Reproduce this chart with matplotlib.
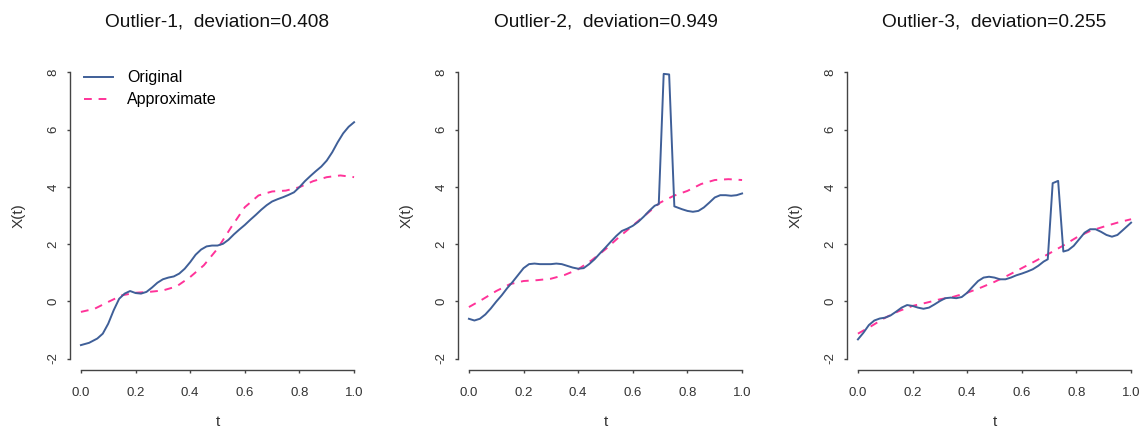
import numpy as np
import matplotlib
matplotlib.use("Agg")
import matplotlib.pyplot as plt

plt.rcParams['font.family'] = ['Liberation Sans', 'DejaVu Sans']

# 데이터
titles = ["Outlier-1,  deviation=0.408",
          "Outlier-2,  deviation=0.949",
          "Outlier-3,  deviation=0.255"]

t_orig1 = [0.0, 0.03, 0.06, 0.08, 0.10, 0.12, 0.14, 0.16, 0.18, 0.20, 0.22, 0.24,
           0.26, 0.28, 0.30, 0.32, 0.34, 0.36, 0.38, 0.40, 0.42, 0.44, 0.46, 0.48,
           0.50, 0.52, 0.54, 0.56, 0.58, 0.60, 0.62, 0.64, 0.66, 0.68, 0.70, 0.72,
           0.74, 0.76, 0.78, 0.80, 0.82, 0.84, 0.86, 0.88, 0.90, 0.92, 0.94, 0.96,
           0.98, 1.0]
x_orig1 = [-1.53, -1.45, -1.30, -1.13, -0.78, -0.31, 0.09, 0.27, 0.36, 0.29, 0.27, 0.33,
           0.48, 0.65, 0.77, 0.83, 0.87, 0.97, 1.14, 1.37, 1.63, 1.81, 1.92, 1.95,
           1.95, 2.01, 2.15, 2.34, 2.51, 2.67, 2.85, 3.02, 3.20, 3.36, 3.49, 3.57,
           3.64, 3.72, 3.81, 3.99, 4.20, 4.38, 4.55, 4.71, 4.92, 5.21, 5.56, 5.87,
           6.10, 6.26]

t_orig2 = [0.0, 0.02, 0.04, 0.06, 0.08, 0.10, 0.12, 0.14, 0.16, 0.18, 0.20, 0.22,
           0.24, 0.26, 0.28, 0.30, 0.32, 0.34, 0.36, 0.38, 0.40, 0.42, 0.44, 0.46,
           0.48, 0.50, 0.52, 0.54, 0.56, 0.58, 0.60, 0.62, 0.64, 0.66, 0.68, 0.695,
           0.713, 0.733, 0.752, 0.78, 0.80, 0.82, 0.84, 0.86, 0.88, 0.90, 0.92, 0.94,
           0.96, 0.98, 1.0]
x_orig2 = [-0.61, -0.67, -0.61, -0.46, -0.25, -0.01, 0.21, 0.46, 0.68, 0.92, 1.16, 1.30,
           1.32, 1.30, 1.30, 1.30, 1.32, 1.30, 1.24, 1.18, 1.14, 1.16, 1.30, 1.47,
           1.68, 1.88, 2.09, 2.29, 2.46, 2.54, 2.64, 2.78, 2.96, 3.16, 3.34, 3.40,
           7.95, 7.93, 3.32, 3.22, 3.16, 3.13, 3.16, 3.28, 3.45, 3.63, 3.71, 3.71,
           3.69, 3.71, 3.77]

t_orig3 = [0.0, 0.02, 0.04, 0.06, 0.08, 0.10, 0.12, 0.14, 0.16, 0.18, 0.20, 0.22,
           0.24, 0.26, 0.28, 0.30, 0.32, 0.34, 0.36, 0.38, 0.40, 0.42, 0.44, 0.46,
           0.48, 0.50, 0.52, 0.54, 0.56, 0.58, 0.60, 0.62, 0.64, 0.66, 0.68, 0.695,
           0.713, 0.733, 0.752, 0.77, 0.79, 0.81, 0.83, 0.85, 0.87, 0.89, 0.91, 0.93,
           0.95, 0.97, 1.0]
x_orig3 = [-1.33, -1.10, -0.83, -0.67, -0.60, -0.57, -0.49, -0.36, -0.22, -0.13, -0.16, -0.22,
           -0.26, -0.22, -0.11, 0.01, 0.11, 0.13, 0.11, 0.15, 0.30, 0.51, 0.71, 0.83,
           0.86, 0.83, 0.77, 0.77, 0.83, 0.91, 0.97, 1.04, 1.12, 1.24, 1.39, 1.47,
           4.13, 4.21, 1.74, 1.79, 1.94, 2.17, 2.40, 2.52, 2.52, 2.43, 2.32, 2.26,
           2.32, 2.49, 2.75]

t_approx = [0.0, 0.05, 0.10, 0.15, 0.20, 0.25, 0.30, 0.35, 0.40, 0.45, 0.50,
            0.55, 0.60, 0.65, 0.70, 0.75, 0.80, 0.85, 0.90, 0.95, 1.0]
x_approx1 = [-0.37, -0.26, -0.02, 0.21, 0.30, 0.33, 0.38, 0.52, 0.85, 1.26, 1.84,
             2.59, 3.29, 3.70, 3.84, 3.87, 3.99, 4.20, 4.34, 4.40, 4.34]
x_approx2 = [-0.20, 0.07, 0.36, 0.60, 0.71, 0.74, 0.79, 0.92, 1.12, 1.44, 1.82,
             2.25, 2.65, 3.05, 3.45, 3.69, 3.86, 4.10, 4.24, 4.27, 4.24]
x_approx3 = [-1.13, -0.86, -0.57, -0.34, -0.16, -0.05, 0.07, 0.16, 0.30, 0.48, 0.68,
             0.91, 1.16, 1.41, 1.67, 1.94, 2.23, 2.46, 2.61, 2.75, 2.87]

originals = [(t_orig1, x_orig1), (t_orig2, x_orig2), (t_orig3, x_orig3)]
approxs = [x_approx1, x_approx2, x_approx3]

blue = '#3f5f98'
pink = '#ff3399'
grey = '#333333'

fig = plt.figure(figsize=(11.39, 4.28), dpi=100)
lefts = [70, 458, 847]

for i in range(3):
    ax = fig.add_axes([lefts[i] / 1139, 58 / 428, 295 / 1139, 309 / 428])
    t, x = originals[i]
    ax.plot(t, x, color=blue, lw=1.4, label='Original', zorder=3)
    ax.plot(t_approx, approxs[i], color=pink, lw=1.4, ls=(0, (4, 3.5)),
            label='Approximate', zorder=2)
    ax.set_xlim(-0.04, 1.04)
    ax.set_ylim(-2.4, 8.4)
    ax.set_xticks([0.0, 0.2, 0.4, 0.6, 0.8, 1.0])
    ax.set_yticks([-2, 0, 2, 4, 6, 8])
    ax.set_xticklabels(['0.0', '0.2', '0.4', '0.6', '0.8', '1.0'])
    ax.set_yticklabels(['-2', '0', '2', '4', '6', '8'], rotation=90, va='center')
    for s in ['top', 'right']:
        ax.spines[s].set_visible(False)
    ax.spines['left'].set_bounds(-2, 8)
    ax.spines['bottom'].set_bounds(0, 1)
    for s in ['left', 'bottom']:
        ax.spines[s].set_color('#444444')
        ax.spines[s].set_linewidth(1.0)
    ax.tick_params(axis='both', direction='out', length=2.5, width=1.0,
                   colors='#444444', labelsize=9.5, labelcolor=grey)
    ax.tick_params(axis='x', pad=9.5)
    ax.tick_params(axis='y', pad=5)
    ax.set_xlabel('t', fontsize=11, color=grey, labelpad=12)
    ax.set_ylabel('X(t)', fontsize=11, color=grey, labelpad=16)
    ax.set_title(titles[i], fontsize=13.8, color='#111111', pad=25)
    if i == 0:
        ax.legend(loc='upper left', frameon=False, fontsize=11.5,
                  handlelength=1.8, handletextpad=0.9, borderpad=0,
                  borderaxespad=0, bbox_to_anchor=(0.047, 0.97),
                  labelspacing=0.45)

plt.savefig('out.png', dpi=100)
